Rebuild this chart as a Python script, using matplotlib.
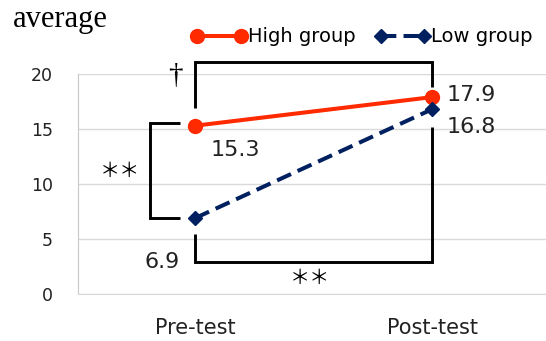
import matplotlib
matplotlib.use("Agg")
import matplotlib.pyplot as plt

# data
categories = ["Pre-test", "Post-test"]
high_group = [15.3, 17.9]
low_group = [6.9, 16.8]
y_ticks = [0, 5, 10, 15, 20]

red = "#FF2A00"
navy = "#002060"

fig = plt.figure(figsize=(5.46, 3.41), dpi=100)
ax = fig.add_axes([78 / 546, 1 - 294 / 341, 1 - 78 / 546, 220 / 341])

x = list(range(len(categories)))
ax.plot(x, high_group, color=red, lw=2.9, marker="o", ms=10,
        solid_capstyle="round", label="High group", zorder=5)
ax.plot(x, low_group, color=navy, lw=2.9, ls=(0, (3.8, 1.8)), marker="D", ms=7,
        label="Low group", zorder=5)

ax.set_xlim(-0.494, 1.48)
ax.set_ylim(0, 20)
ax.set_yticks(y_ticks)
ax.set_xticks(x)
ax.set_xticklabels(categories, fontsize=15, color="#222222")
ax.tick_params(axis="y", labelsize=12.5, colors="#222222", length=0, pad=18)
ax.tick_params(axis="x", length=0, pad=17)
ax.yaxis.grid(True, color="#D9D9D9", lw=1)
ax.set_axisbelow(True)
for s in ["top", "right"]:
    ax.spines[s].set_visible(False)
ax.spines["left"].set_color("#C8C8C8")
ax.spines["bottom"].set_color("#D9D9D9")

# significance brackets
bk = dict(color="black", lw=2.1, clip_on=False, solid_capstyle="butt",
          solid_joinstyle="miter", zorder=3)
ax.plot([0, 0, 1, 1], [16.9, 21.1, 21.1, 18.8], **bk)
ax.plot([-0.063, -0.19, -0.19, -0.063], [15.55, 15.55, 6.9, 6.9], **bk)
ax.plot([0, 0, 1, 1], [5.45, 2.9, 2.9, 15.2], **bk)

ax.text(-0.085, 19.8, "†", fontsize=21, ha="center", va="center",
        family="Liberation Serif")
ax.text(-0.316, 11.1, "＊＊", fontsize=14.5, ha="center", va="center",
        family=["Noto Sans CJK JP", "DejaVu Sans"])
ax.text(0.485, 1.45, "＊＊", fontsize=14.5, ha="center", va="center",
        family=["Noto Sans CJK JP", "DejaVu Sans"])

# value labels
lab = dict(fontsize=16, color="#222222", va="center")
ax.text(0.17, 13.1, f"{high_group[0]}", ha="center", **lab)
ax.text(-0.14, 2.9, f"{low_group[0]}", ha="center", **lab)
ax.text(1.06, 18.1, f"{high_group[1]}", ha="left", **lab)
ax.text(1.06, 15.2, f"{low_group[1]}", ha="left", **lab)

fig.text(13 / 546, 1 - 20 / 341, "average", fontsize=22, va="center",
         family="Liberation Serif")

fig.legend(loc="center", bbox_to_anchor=(362 / 546, 1 - 37 / 341), ncol=2,
           frameon=False, fontsize=14, handlelength=2.85, handletextpad=0.05,
           columnspacing=1.0, numpoints=2, borderpad=0, borderaxespad=0)

fig.savefig("out.png", dpi=100)
